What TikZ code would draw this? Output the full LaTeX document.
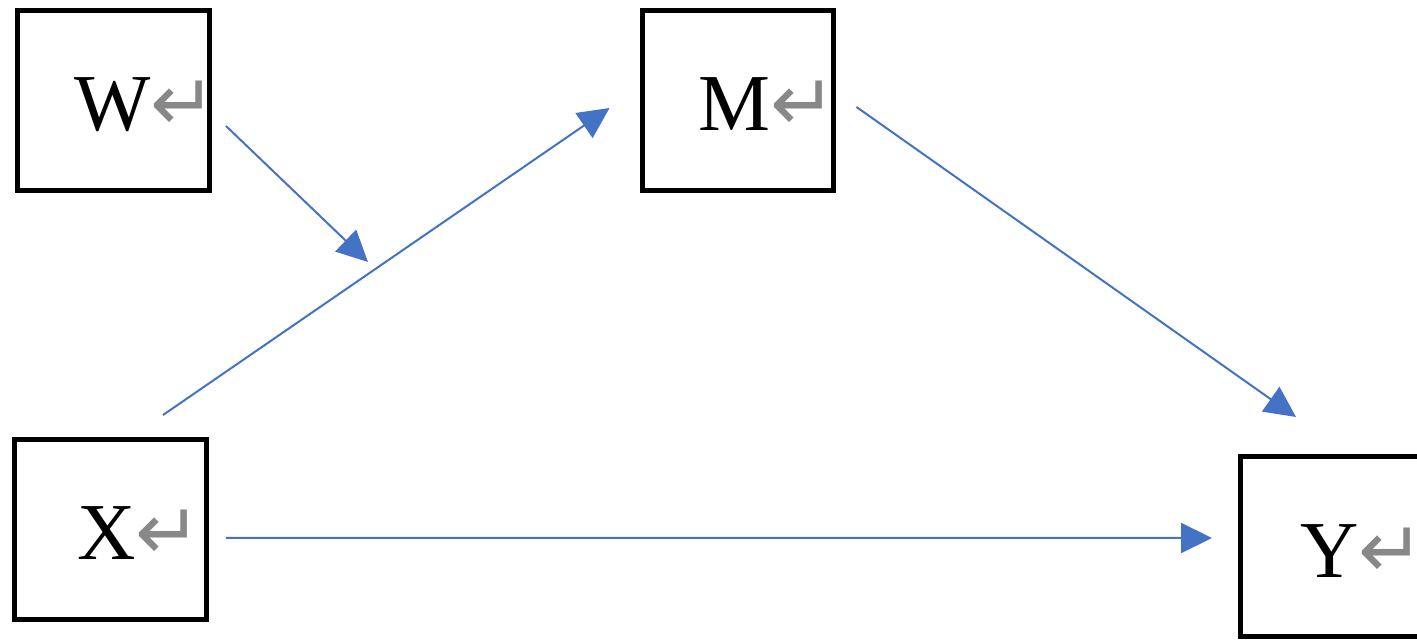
\documentclass[tikz,border=0pt]{standalone}
\usepackage{fontspec}
\setmainfont{Liberation Serif}
\newfontfamily\markfont{DejaVu Sans}
\usetikzlibrary{arrows.meta}
\definecolor{linkblue}{RGB}{68,114,196}
\definecolor{markgray}{RGB}{136,136,136}
\tikzset{
  box/.style={draw, line width=0.1cm, minimum width=3.84cm, minimum height=3.6cm, inner sep=0pt},
  boxtext/.style={font=\fontsize{46}{50}\selectfont, inner sep=0pt, anchor=base},
  conn/.style={linkblue, line width=0.04cm, -{Triangle[length=0.62cm,width=0.6cm]}}
}
\newcommand{\retmark}{{\color{markgray}\markfont\fontsize{45}{50}\selectfont ↵}}
\begin{document}
\begin{tikzpicture}[x=0.02cm, y=-0.02cm]
                    \useasboundingbox (0,0) rectangle (1417,641);
                    \clip (0,0) rectangle (1417,641);

                    % Drawing box W
                    \node [box] (W) at (113.5,100.5) {};%
                    \node [boxtext] (Wtext) at ([shift={(32,30)}]W.center) {W\retmark};%

                    % Drawing box M
                    \node [box] (M) at (738,100.5) {};%
                    \node [boxtext] (Mtext) at ([shift={(30,30)}]M.center) {M\retmark};%

                    % Drawing box X
                    \node [box] (X) at (110.5,529.5) {};%
                    \node [boxtext] (Xtext) at ([shift={(29,30)}]X.center) {X\retmark};%

                    % Drawing box Y
                    \node [box] (Y) at (1336.5,546.5) {};%
                    \node [boxtext] (Ytext) at ([shift={(26,31)}]Y.center) {Y\retmark};%

                    % Marking point on path X M
                    \coordinate (XMmid) at (368,262);%

                    % Drawing arrow W to path X M
                    \draw [conn] ([shift={(14,25.5)}]W.east) -- (XMmid);%

                    % Drawing arrow X M
                    \draw [conn] ([shift={(52.5,-22)}]X.north) -- ([shift={(-30,7.5)}]M.west);%

                    % Drawing arrow M Y
                    \draw [conn] ([shift={(20,6.5)}]M.east) -- ([shift={(-40.5,-37)}]Y.north);%

                    % Drawing arrow X Y
                    \draw [conn] ([shift={(17,8.5)}]X.east) -- ([shift={(-26,-8.5)}]Y.west);%
\end{tikzpicture}
\end{document}
